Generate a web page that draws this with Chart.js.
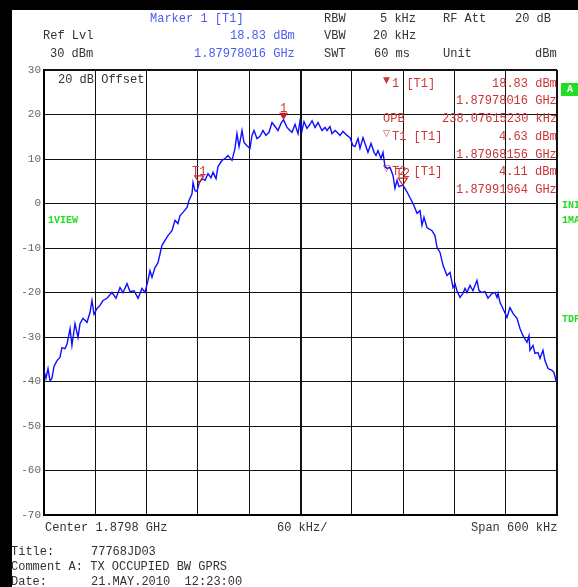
<!DOCTYPE html>
<html>
<head>
<meta charset="utf-8">
<script src="https://cdn.jsdelivr.net/npm/chart.js@4"></script>
<style>
  html, body { margin: 0; padding: 0; background: #fff; }
  body { width: 578px; height: 587px; position: relative; overflow: hidden; }
  #chart { position: absolute; left: 0; top: 0; }
  .t { position: absolute; font: 12px "Liberation Mono", monospace; line-height: 12px; white-space: pre; color: #333; }
  .blue { color: #4a5cf0; }
  .red { color: #cc3535; }
  .green { color: #22dd22; font-weight: bold; font-size: 10px; }
  .sym { font: 9px "DejaVu Sans", sans-serif; line-height: 9px; }
  #barTop { position: absolute; left: 0; top: 0; width: 578px; height: 10px; background: #000; z-index: 5; }
  #barLeft { position: absolute; left: 0; top: 0; width: 12px; height: 587px; background: #000; z-index: 5; }
  #boxA { position: absolute; left: 561px; top: 83px; width: 20px; height: 13px; background: #22dd22; color: #fff;
          font: bold 10px "Liberation Mono", monospace; line-height: 13px; padding-left: 6px; box-sizing: border-box; }
</style>
</head>
<body>
<canvas id="chart" width="578" height="587"></canvas>
<div id="barTop"></div>
<div id="barLeft"></div>

<!-- header -->
<div class="t blue" style="left:150px;top:13px">Marker 1 [T1]</div>
<div class="t" style="left:324px;top:13px">RBW</div>
<div class="t" style="left:380px;top:13px">5 kHz</div>
<div class="t" style="left:443px;top:13px">RF Att</div>
<div class="t" style="left:515px;top:13px">20 dB</div>
<div class="t" style="left:43px;top:30px">Ref Lvl</div>
<div class="t blue" style="left:230px;top:30px">18.83 dBm</div>
<div class="t" style="left:324px;top:30px">VBW</div>
<div class="t" style="left:373px;top:30px">20 kHz</div>
<div class="t" style="left:50px;top:48px">30 dBm</div>
<div class="t blue" style="left:194px;top:48px">1.87978016 GHz</div>
<div class="t" style="left:324px;top:48px">SWT</div>
<div class="t" style="left:374px;top:48px">60 ms</div>
<div class="t" style="left:443px;top:48px">Unit</div>
<div class="t" style="left:535px;top:48px">dBm</div>

<!-- in-plot text -->
<div class="t" style="left:58px;top:74px">20 dB Offset</div>
<div class="t green" style="left:48px;top:215px">1VIEW</div>

<div class="t red sym" style="left:383px;top:76px">▼</div>
<div class="t red" style="left:392px;top:78px">1 [T1]</div>
<div class="t red" style="left:492px;top:78px">18.83 dBm</div>
<div class="t red" style="left:456px;top:95px">1.87978016 GHz</div>
<div class="t red" style="left:383px;top:113px">OPB</div>
<div class="t red" style="left:442px;top:113px">238.07615230 kHz</div>
<div class="t red sym" style="left:383px;top:129px">▽</div>
<div class="t red" style="left:392px;top:131px">T1 [T1]</div>
<div class="t red" style="left:499px;top:131px">4.63 dBm</div>
<div class="t red" style="left:456px;top:149px">1.87968156 GHz</div>
<div class="t red sym" style="left:383px;top:164px">▽</div>
<div class="t red" style="left:392px;top:166px">T2 [T1]</div>
<div class="t red" style="left:499px;top:166px">4.11 dBm</div>
<div class="t red" style="left:456px;top:184px">1.87991964 GHz</div>

<!-- right side labels -->
<div id="boxA">A</div>
<div class="t green" style="left:562px;top:200px">INI</div>
<div class="t green" style="left:562px;top:215px">1MA</div>
<div class="t green" style="left:562px;top:314px">TDF</div>

<!-- footer -->
<div class="t" style="left:45px;top:522px">Center 1.8798 GHz</div>
<div class="t" style="left:277px;top:522px">60 kHz/</div>
<div class="t" style="left:471px;top:522px">Span 600 kHz</div>
<div class="t" style="left:11px;top:546px">Title:</div>
<div class="t" style="left:91px;top:546px">77768JD03</div>
<div class="t" style="left:11px;top:561px">Comment A: TX OCCUPIED BW GPRS</div>
<div class="t" style="left:11px;top:576px">Date:</div>
<div class="t" style="left:91px;top:576px">21.MAY.2010  12:23:00</div>

<script>
// trace, offset from centre 1.8798 GHz in kHz, level in dBm
const freqOffsetKHz = [-300,-297.7,-295.3,-293,-290.7,-288.3,-284.8,-281.3,-279,-275.4,
  -273,-269.5,-267.3,-263.7,-260.2,-257.9,-254.4,-249.7,-246.2,-243.9,
  -241.5,-238,-234.5,-231,-226.3,-220.5,-215.8,-211.1,-207.6,-202.9,
  -199.4,-194.7,-190,-185.4,-181.9,-178.4,-176,-173.7,-170.2,-166.7,
  -162,-158.5,-155,-150.3,-146.8,-143.3,-140.9,-137.4,-132.7,-130.4,
  -126.9,-125.7,-123.4,-121.1,-118.44,-115.2,-111.7,-108.2,-104.7,-102.3,
  -98.8,-96.5,-91.8,-88.3,-84.8,-80.1,-76.6,-74.3,-71.9,-68.4,
  -66.1,-62.6,-59.1,-56.7,-54.4,-50.9,-47.4,-43.9,-40.4,-36.8,
  -33.3,-29.8,-26.3,-22.8,-19.84,-15.8,-12.3,-9.9,-6.4,-2.9,
  -0.6,1.8,4.1,7.6,11.1,13.5,17,20.5,25.1,28.7,
  31,34.5,36.8,40.4,42.7,46.2,49.7,54.4,57.9,61.4,
  63.7,67.3,69.6,73.1,76.6,78.9,82.5,86,88.3,90.6,
  94.2,96.5,98.8,101.2,104.7,108.2,110.5,112.9,115.2,119.64,
  122.2,125.7,128.1,131.6,136.3,139.8,142.1,144.4,147.9,153.8,
  157.3,159.7,163.2,166.7,171.3,174.9,178.4,180.7,183,186.5,
  190,192.4,194.7,198.2,201.7,206.4,208.8,212.3,215.8,219.3,
  224,227.5,229.8,231,233.3,236.8,241.5,245,248.5,253.2,
  256.7,260.2,264.9,267.2,268.4,271.9,274.2,277.8,280.1,283.6,
  285.9,289.5,294.1,296.5,298.8,300];
const levelDbm = [-37.5,-39.3,-37.1,-39.8,-39.3,-36.6,-35.3,-34.6,-32.4,-32.6,
  -31.5,-28.1,-31.9,-27.0,-30.1,-27.0,-25.8,-26.7,-24.5,-21.8,
  -24.9,-23.6,-22.9,-21.8,-21.3,-20.0,-21.3,-18.9,-20.0,-18.0,
  -19.8,-19.6,-21.3,-19.1,-20.0,-17.3,-15.1,-16.6,-14.4,-13.3,
  -9.4,-8.3,-7.2,-6.1,-3.8,-4.5,-2.7,-2.0,-0.9,0.7,
  2.2,4.7,2.9,2.7,4.63,5.6,5.2,6.7,5.8,7.0,
  5.6,8.3,9.7,10.1,10.8,9.7,12.4,15.7,12.8,16.4,
  13.7,13.0,12.4,15.3,16.4,14.6,15.1,16.4,15.3,16.0,
  18.2,17.3,16.4,18.0,18.83,17.1,16.4,16.0,17.8,15.7,
  18.5,16.4,18.4,16.9,17.8,18.6,17.1,18.2,16.4,17.1,
  16.4,17.3,15.7,16.4,16.0,15.3,16.2,15.3,14.8,13.0,
  12.8,14.6,12.4,14.8,12.8,11.5,13.5,11.5,10.8,11.9,
  10.1,11.5,8.3,7.9,8.1,6.3,3.4,5.2,3.8,4.11,
  3.4,2.2,1.3,0,-2.2,-1.6,-4.9,-3.1,-5.4,-6.1,
  -7.2,-9.9,-11.0,-13.9,-16.2,-15.5,-18.9,-18.0,-19.6,-21.1,
  -20.2,-19.1,-20.0,-18.4,-19.6,-17.3,-19.6,-20.0,-19.8,-21.3,
  -20.2,-20.0,-21.1,-20.2,-22.2,-23.6,-25.6,-23.4,-24.7,-25.8,
  -28.1,-29.7,-31.2,-29.7,-33.0,-31.9,-33.7,-33.5,-34.8,-33.0,
  -35.3,-37.1,-37.5,-38.0,-39.8,-40];

// markers
const markerNames = ['1', 'T1', 'T2'];
const markerFreqKHz = [-19.84, -118.44, 119.64];
const markerLevels = [18.83, 4.63, 4.11];

// axes
const spanKHz = [-300, 300];
const levelRange = [-70, 30];

var points = freqOffsetKHz.map(function(f, i) { return { x: f, y: levelDbm[i] }; });

// draw the marker triangles and their names through the scales
var markerPlugin = {
  id: 'markers',
  afterDatasetsDraw: function(chart) {
    var c = chart.ctx, xs = chart.scales.x, ys = chart.scales.y;
    c.save();
    markerNames.forEach(function(name, i) {
      var px = xs.getPixelForValue(markerFreqKHz[i]);
      var py = ys.getPixelForValue(markerLevels[i]);
      c.beginPath();
      c.moveTo(px, py);
      c.lineTo(px - 4.5, py - 7);
      c.lineTo(px + 4.5, py - 7);
      c.closePath();
      c.strokeStyle = '#cc2020';
      c.fillStyle = '#cc2020';
      c.lineWidth = 1.2;
      if (i === 0) c.fill(); else c.stroke();
      c.font = '12px "Liberation Mono", monospace';
      c.textAlign = 'center';
      c.textBaseline = 'alphabetic';
      c.fillStyle = '#cc3535';
      c.fillText(name, px, py - 8);
    });
    c.restore();
  }
};

function edgeWidth(ctx, lo, hi, mid) {
  var v = ctx.tick ? ctx.tick.value : null;
  if (v === lo || v === hi) return 2;
  if (v === mid) return 2;
  return 1;
}

new Chart(document.getElementById('chart'), {
  type: 'line',
  data: {
    datasets: [{
      data: points,
      borderColor: '#0f0fff',
      borderWidth: 1.4,
      pointRadius: 0,
      tension: 0,
      fill: false
    }]
  },
  options: {
    responsive: false,
    animation: false,
    devicePixelRatio: 1,
    layout: { padding: { left: 0, top: 70, right: 21, bottom: 72 } },
    plugins: { legend: { display: false }, tooltip: { enabled: false } },
    scales: {
      x: {
        type: 'linear',
        min: spanKHz[0], max: spanKHz[1],
        ticks: { display: false, stepSize: 60 },
        grid: {
          color: '#111',
          drawTicks: false,
          lineWidth: function(ctx) { return edgeWidth(ctx, spanKHz[0], spanKHz[1], 0); }
        },
        border: { display: true, color: '#000', width: 2 },
        afterFit: function(scale) { scale.height = 0; }
      },
      y: {
        min: levelRange[0], max: levelRange[1],
        ticks: {
          stepSize: 10,
          color: '#666',
          padding: 3,
          font: { family: '"Liberation Mono", monospace', size: 11 }
        },
        grid: {
          color: '#111',
          drawTicks: false,
          lineWidth: function(ctx) { return edgeWidth(ctx, levelRange[0], levelRange[1], null); }
        },
        border: { display: true, color: '#000', width: 2 },
        afterFit: function(scale) { scale.width = 44; }
      }
    }
  },
  plugins: [markerPlugin]
});
</script>
</body>
</html>
